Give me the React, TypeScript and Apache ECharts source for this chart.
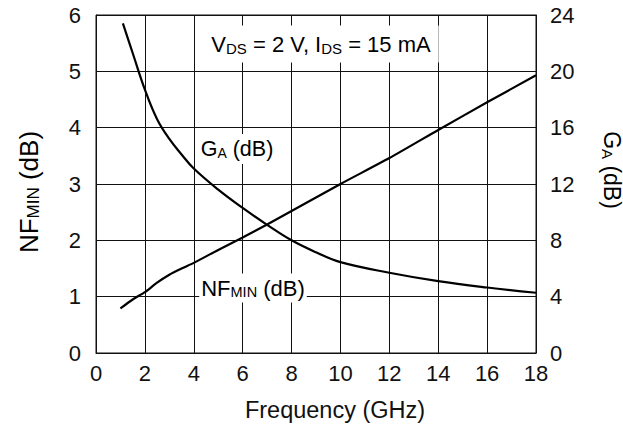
import React, { useEffect, useRef } from 'react';
import * as echarts from 'echarts';

// Frequency (GHz) sample points and read-off values
const nfFreq = [1, 1.5, 2, 2.5, 3, 3.5, 4, 5, 6, 7, 8, 10, 12, 14, 16, 18];
const nfMin = [0.79, 0.95, 1.08, 1.25, 1.39, 1.5, 1.6, 1.83, 2.05, 2.28, 2.52, 3.0, 3.46, 3.96, 4.45, 4.93];

const gaFreq = [1.1, 1.5, 2, 2.5, 3, 3.5, 4, 5, 6, 7, 8, 9, 10, 12, 14, 16, 18];
const gaDb = [23.4, 21.3, 18.7, 16.6, 15.2, 14.1, 13.1, 11.6, 10.3, 9.1, 8.0, 7.15, 6.45, 5.7, 5.1, 4.65, 4.28];

const xAxisName = 'Frequency (GHz)';
const FONT = '"Liberation Sans", Arial, Helvetica, sans-serif';

function mk(size: number, subSize: number, lh: number, subLh: number) {
  return {
    m: { fontSize: size, fontFamily: FONT, color: '#111', lineHeight: lh, verticalAlign: 'bottom' as const },
    s: { fontSize: subSize, fontFamily: FONT, color: '#111', lineHeight: subLh, verticalAlign: 'bottom' as const },
  };
}

export default function App() {
  const ref = useRef<HTMLDivElement>(null);
  useEffect(() => {
    if (!ref.current) return;
    const chart = echarts.init(ref.current, undefined, { renderer: 'svg' });
    const lineC = '#111';
    chart.setOption({
      animation: false,
      backgroundColor: '#fff',
      grid: { left: 96, right: 87, top: 15, bottom: 76, show: true, borderColor: lineC, borderWidth: 1 },
      xAxis: {
        type: 'value', min: 0, max: 18, interval: 2,
        name: xAxisName, nameLocation: 'middle', nameGap: 45,
        nameTextStyle: { fontSize: 23.5, fontFamily: FONT, color: '#111', padding: [0, 0, 0, 38] },
        axisLine: { show: true, lineStyle: { color: lineC, width: 1 } },
        axisTick: { show: false },
        axisLabel: { fontSize: 22, fontFamily: FONT, color: '#111', margin: 9 },
        splitLine: { show: true, lineStyle: { color: lineC, width: 1 } },
      },
      yAxis: [
        {
          type: 'value', min: 0, max: 6, interval: 1, position: 'left',
          axisLine: { show: true, lineStyle: { color: lineC, width: 1 } },
          axisTick: { show: false },
          axisLabel: { fontSize: 22, fontFamily: FONT, color: '#111', margin: 15 },
          splitLine: { show: true, lineStyle: { color: lineC, width: 1 } },
        },
        {
          type: 'value', min: 0, max: 24, interval: 4, position: 'right',
          axisLine: { show: true, lineStyle: { color: lineC, width: 1 } },
          axisTick: { show: false },
          axisLabel: { fontSize: 22, fontFamily: FONT, color: '#111', margin: 14 },
          splitLine: { show: false },
        },
      ],
      series: [
        {
          name: 'NFmin', type: 'line', yAxisIndex: 0, showSymbol: false, smooth: 0.2,
          data: nfFreq.map((f, i) => [f, nfMin[i]]),
          lineStyle: { color: '#000', width: 2.2 },
        },
        {
          name: 'GA', type: 'line', yAxisIndex: 1, showSymbol: false, smooth: 0.4,
          data: gaFreq.map((f, i) => [f, gaDb[i]]),
          lineStyle: { color: '#000', width: 2.2 },
        },
      ],
      graphic: [
        {
          type: 'text', x: 321, y: 44, z: 100,
          style: {
            text: '{m|V}{s|DS}{m| = 2 V, I}{s|DS}{m| = 15 mA}',
            rich: mk(22, 15, 23, 14.5),
            align: 'center', verticalAlign: 'middle',
            backgroundColor: '#fff', padding: [7, 8],
          },
        },
        {
          type: 'text', x: 237, y: 149, z: 100,
          style: {
            text: '{m|G}{s|A}{m| (dB)}',
            rich: mk(21.5, 14, 22, 14.5),
            align: 'center', verticalAlign: 'middle',
            backgroundColor: '#fff', padding: [4, 4],
          },
        },
        {
          type: 'text', x: 253, y: 288, z: 100,
          style: {
            text: '{m|NF}{s|MIN}{m| (dB)}',
            rich: mk(22, 14.5, 23, 15),
            align: 'center', verticalAlign: 'middle',
            backgroundColor: '#fff', padding: [3, 2],
          },
        },
        {
          type: 'text', x: 28, y: 192, rotation: Math.PI / 2, z: 100,
          style: {
            text: '{m|NF}{s|MIN}{m| (dB)}',
            rich: mk(26, 17, 27, 18),
            align: 'center', verticalAlign: 'middle',
          },
        },
        {
          type: 'text', x: 612, y: 170, rotation: -Math.PI / 2, z: 100,
          style: {
            text: '{m|G}{s|A}{m| (dB)}',
            rich: mk(23, 15, 24, 16),
            align: 'center', verticalAlign: 'middle',
          },
        },
      ],
    });
    return () => chart.dispose();
  }, []);
  return <div ref={ref} style={{ position: 'fixed', left: 0, top: 0, width: 623, height: 429 }} />;
}
